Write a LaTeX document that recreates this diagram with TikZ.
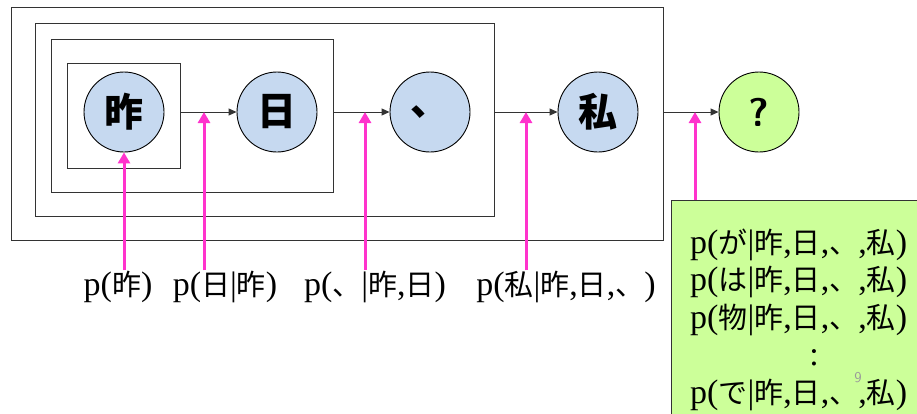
\documentclass[tikz,border=0pt]{standalone}
\usepackage{fontspec}
\setmainfont{Liberation Serif}
\newfontfamily\jp{Noto Sans CJK JP}
\newcommand{\J}[1]{{\jp\fontsize{29}{36}\selectfont #1}}
\usetikzlibrary{arrows.meta}
\definecolor{pk}{RGB}{255,51,204}
\definecolor{cblue}{RGB}{198,217,240}
\definecolor{cgreen}{RGB}{204,255,153}
\tikzset{
  frame/.style={draw=black!80, line width=0.9pt, inner sep=0pt},
  word/.style={circle, draw=black, line width=0.9pt, fill=cblue, minimum size=80pt, inner sep=0pt, font=\jp\bfseries\fontsize{39}{40}\selectfont},
  flow/.style={draw=black!80, line width=0.9pt, -{Triangle[length=8pt,width=7pt]}},
  prob/.style={draw=pk, line width=3pt, -{Triangle[length=11pt,width=12pt]}},
  lab/.style={inner sep=0pt, anchor=base, font=\fontsize{34}{36}\selectfont},
  gline/.style={inner sep=0pt, anchor=base west, font=\fontsize{34}{36}\selectfont}
}
\begin{document}
\begin{tikzpicture}[x=1pt,y=-1pt]
\useasboundingbox (0,0) rectangle (917,413);
% nested frames
\node[frame, minimum width=652pt, minimum height=233pt] (b1) at (337,123.5) {};
\node[frame, minimum width=459pt, minimum height=193pt] (b2) at (264.5,119.5) {};
\node[frame, minimum width=282pt, minimum height=153pt] (b3) at (192,115.5) {};
\node[frame, minimum width=113pt, minimum height=105pt] (b4) at (123.5,115.5) {};
% words
\node[word] (c1) at (124,112) {昨};
\node[word] (c2) at (277,112) {日};
\node[word] (c3) at (430,112) {、};
\node[word] (c4) at (598,112) {私};
\node[word, fill=cgreen, font=\sffamily\bfseries\fontsize{40}{40}\selectfont] (c5) at (759,112) {?};
% flow arrows
\draw[flow] (c1 -| b4.east) -- (c2.west);
\draw[flow] (c2 -| b3.east) -- (c3.west);
\draw[flow] (c3 -| b2.east) -- (c4.west);
\draw[flow] (c4 -| b1.east) -- (c5.west);
\coordinate (m1) at (204,112);
\coordinate (m2) at (365,112);
\coordinate (m3) at (526,112);
\coordinate (m4) at (695,112);
% labels
\node[lab] (l1) at (118,295) {p(\J{昨})};
\node[lab] (l2) at (225,295) {p(\J{日}|\J{昨})};
\node[lab] (l3) at (375,295) {p(\J{、}|\J{昨},\J{日})};
\node[lab] (l4) at (566,295) {p(\J{私}|\J{昨},\J{日},\J{、})};
% green box
\node[draw=black!80, line width=0.9pt, fill=cgreen, anchor=north west, minimum width=260pt, minimum height=230pt, inner sep=0pt] (g) at (671,200) {};
\node[gline] (g1) at (690,253) {p(\J{が}|\J{昨},\J{日},\J{、},\J{私})};
\node[gline] (g2) at (690,290) {p(\J{は}|\J{昨},\J{日},\J{、},\J{私})};
\node[gline] (g3) at (690,328) {p(\J{物}|\J{昨},\J{日},\J{、},\J{私})};
\node[inner sep=0pt, font=\fontsize{34}{36}\selectfont] (dots) at (814,358) {:};
\node[gline] (g4) at (690,403) {p(\J{で}|\J{昨},\J{日},\J{、},\J{私})};
\node[text=black!40, font=\sffamily\fontsize{15}{16}\selectfont, inner sep=0pt] (pg) at (858,378) {9};
% probability arrows
\draw[prob] (c1 |- l1.north) -- (c1.south);
\draw[prob] (m1 |- l2.north) -- (m1);
\draw[prob] (m2 |- l3.north) -- (m2);
\draw[prob] (m3 |- l4.north) -- (m3);
\draw[prob] (m4 |- g.north) -- (m4);
\end{tikzpicture}
\end{document}
